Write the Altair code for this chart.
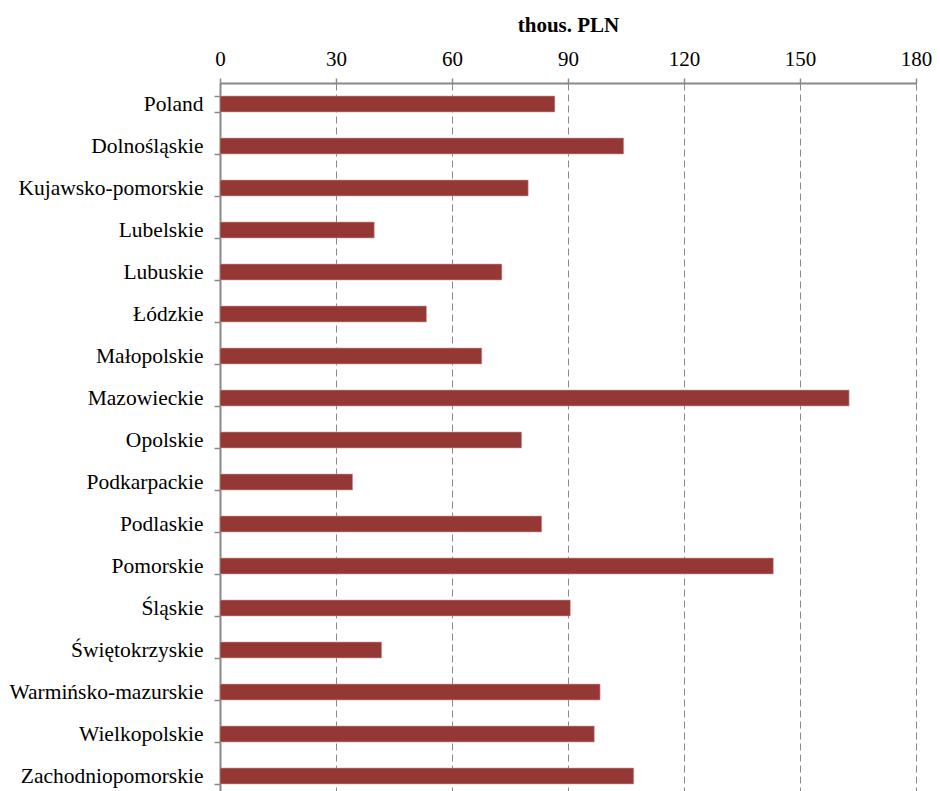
import altair as alt
import pandas as pd

regions = ["Poland", "Dolnośląskie", "Kujawsko-pomorskie", "Lubelskie", "Lubuskie",
           "Łódzkie", "Małopolskie", "Mazowieckie", "Opolskie", "Podkarpackie",
           "Podlaskie", "Pomorskie", "Śląskie", "Świętokrzyskie",
           "Warmińsko-mazurskie", "Wielkopolskie", "Zachodniopomorskie"]
values = [86.6, 104.4, 79.7, 39.9, 72.9, 53.4, 67.7, 162.7, 78.0, 34.3,
          83.2, 143.1, 90.6, 41.8, 98.3, 96.8, 107.0]
x_ticks = [0, 30, 60, 90, 120, 150, 180]

df = pd.DataFrame({"region": regions, "value": values})
FONT = "Liberation Serif"

chart = alt.Chart(df).mark_bar(color="#953735", stroke="#c9a09f", strokeWidth=0.6).encode(
    x=alt.X("value:Q",
            scale=alt.Scale(domain=[0, 180], nice=False),
            axis=alt.Axis(orient="top", values=x_ticks, title="thous. PLN",
                          titleFont=FONT, titleFontSize=21, titleFontWeight="bold",
                          titleColor="black", titlePadding=13,
                          labelFont=FONT, labelFontSize=21, labelColor="black",
                          labelPadding=9, labelFlush=False, labelOverlap=False,
                          tickSize=5, tickColor="#888888", tickWidth=1.5,
                          domainColor="#888888", domainWidth=2,
                          grid=True, gridColor="#888888", gridDash=[7, 4], gridWidth=1)),
    y=alt.Y("region:N", sort=regions,
            scale=alt.Scale(paddingInner=0.62, paddingOuter=0.31),
            axis=alt.Axis(title=None, labelFont=FONT, labelFontSize=21.5, labelColor="black",
                          labelPadding=11, labelLimit=400, tickSize=6, tickBand="extent",
                          tickColor="#888888", tickWidth=1.5,
                          domainColor="#888888", domainWidth=2, grid=False)),
).properties(
    width=696,
    height=714,
    autosize=alt.AutoSizeParams(type="none"),
    padding={"left": 212, "top": 75, "right": 16, "bottom": 0},
).configure_view(stroke=None)

chart.save("out.html", embed_options={"renderer": "svg", "actions": False})
